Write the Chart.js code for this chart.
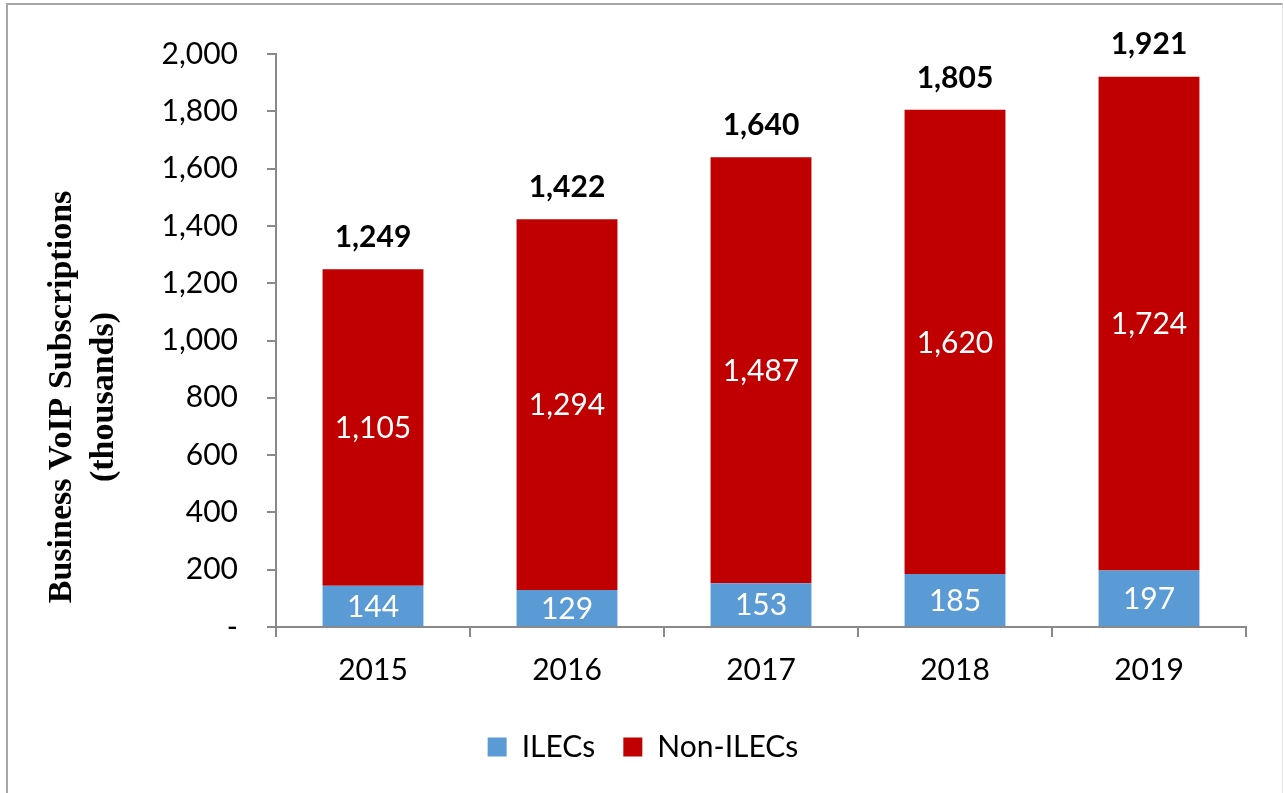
<!DOCTYPE html>
<html>
<head>
<meta charset="utf-8">
<script src="https://cdn.jsdelivr.net/npm/chart.js@4/dist/chart.umd.min.js"></script>
<style>
  html, body { margin: 0; padding: 0; background: #fff; }
  #wrap { position: relative; width: 1284px; height: 793px; }
  #frame { position: absolute; left: 6px; top: 3px; width: 1274px; height: 800px;
           border-top: 2px solid #a6a6a6; border-left: 2px solid #a6a6a6; border-right: 1px solid #e4e4e4; }
  canvas { position: absolute; left: 0; top: 0; }
</style>
</head>
<body>
<div id="wrap">
  <div id="frame"></div>
  <canvas id="voipChart" width="1284" height="793"></canvas>
</div>
<script>
// Dati del grafico
const years = ['2015', '2016', '2017', '2018', '2019'];
const ilecs = [144, 129, 153, 185, 197];
const nonIlecs = [1105, 1294, 1487, 1620, 1724];
const totals = [1249, 1422, 1640, 1805, 1921];
const yTitle = ['Business VoIP Subscriptions', '(thousands)'];

const BLUE = '#5B9BD5';
const RED = '#C00000';
const AXIS = '#898989';
const FONT = 'Lato, "Open Sans", sans-serif';

const fmt = v => v.toLocaleString('en-US');

// Etichette dei valori: bianche dentro i segmenti, in grassetto sopra la colonna
const valueLabels = {
    id: 'valueLabels',
    afterDatasetsDraw(chart) {
        const ctx = chart.ctx;
        ctx.save();
        ctx.textAlign = 'center';
        ctx.textBaseline = 'middle';
        ctx.fillStyle = '#fff';
        ctx.font = '30px ' + FONT;
        chart.data.datasets.forEach((ds, i) => {
            chart.getDatasetMeta(i).data.forEach((bar, j) => {
                ctx.fillText(fmt(ds.data[j]), bar.x, (bar.y + bar.base) / 2 + 1);
            });
        });
        const top = chart.getDatasetMeta(1).data;
        ctx.fillStyle = '#000';
        ctx.font = 'bold 30px ' + FONT;
        top.forEach((bar, j) => {
            ctx.fillText(fmt(totals[j]), bar.x, bar.y - 32);
        });
        ctx.restore();
    }
};

// Titolo dell'asse Y su due righe (centrato un po' più in basso, come nell'originale)
const axisTitle = {
    id: 'axisTitle',
    afterDraw(chart) {
        const ctx = chart.ctx;
        ctx.save();
        ctx.translate(62, 397);
        ctx.rotate(-Math.PI / 2);
        ctx.textAlign = 'center';
        ctx.textBaseline = 'middle';
        ctx.fillStyle = '#000';
        ctx.font = 'bold 34px "Liberation Serif", "Times New Roman", serif';
        yTitle.forEach((line, i) => ctx.fillText(line, 0, i * 42));
        ctx.restore();
    }
};

new Chart(document.getElementById('voipChart'), {
    type: 'bar',
    data: {
        labels: years,
        datasets: [
            { label: 'ILECs', data: ilecs, backgroundColor: BLUE },
            { label: 'Non-ILECs', data: nonIlecs, backgroundColor: RED }
        ]
    },
    options: {
        responsive: false,
        animation: false,
        categoryPercentage: 1,
        barPercentage: 0.52,
        layout: { padding: { left: 40, right: 38, top: 54, bottom: 21 } },
        plugins: {
            legend: {
                position: 'bottom',
                labels: {
                    boxWidth: 19, boxHeight: 19, padding: 28,
                    color: '#000',
                    font: { family: FONT, size: 30 }
                }
            },
            tooltip: { enabled: false }
        },
        scales: {
            x: {
                stacked: true,
                afterFit: s => { s.height = 77; },
                grid: { display: true, drawOnChartArea: false, tickLength: 10, color: AXIS, lineWidth: 2 },
                border: { color: AXIS, width: 2 },
                ticks: { color: '#000', padding: 15, font: { family: FONT, size: 30 } }
            },
            y: {
                stacked: true,
                min: 0, max: 2000,
                afterFit: s => { s.width = 236; },
                grid: { display: true, drawOnChartArea: false, tickLength: 9, color: AXIS, lineWidth: 2 },
                border: { color: AXIS, width: 2 },
                ticks: {
                    stepSize: 200, padding: 29, color: '#000',
                    font: { family: FONT, size: 30 },
                    callback: v => v === 0 ? '-' : fmt(v)
                }
            }
        }
    },
    plugins: [valueLabels, axisTitle]
});
</script>
</body>
</html>
